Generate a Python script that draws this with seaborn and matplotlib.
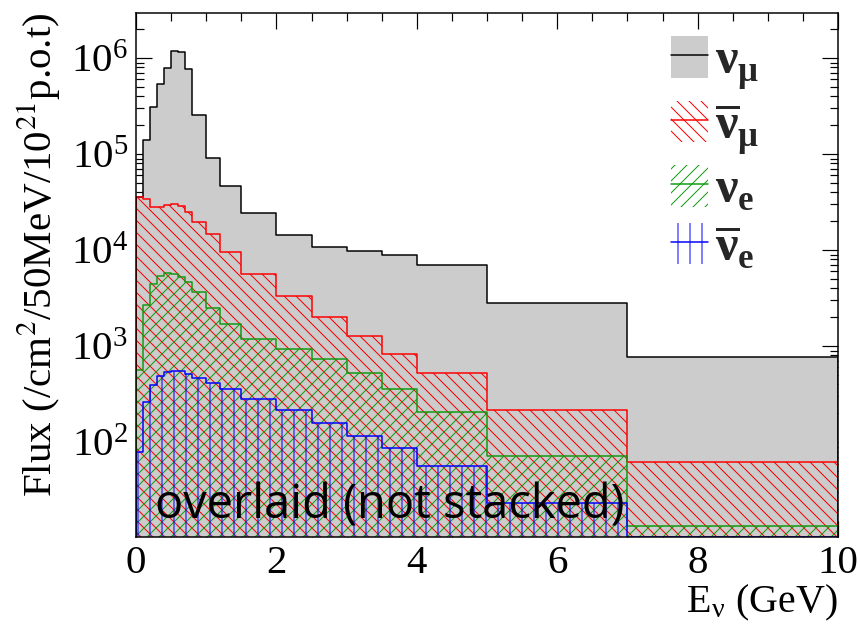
import matplotlib
matplotlib.use("Agg")
import matplotlib.pyplot as plt
from matplotlib.patches import Patch
from matplotlib.lines import Line2D
from matplotlib.font_manager import FontProperties
from matplotlib.ticker import MultipleLocator, LogLocator, NullFormatter
import seaborn as sns

# Neutrino energy binning (GeV) and flux per flavour (/cm^2/50MeV/1e21 p.o.t)
bin_edges = [0.0, 0.1, 0.2, 0.3, 0.4, 0.5, 0.6, 0.7, 0.8, 1.0, 1.2, 1.5,
             2.0, 2.5, 3.0, 3.5, 4.0, 5.0, 7.0, 10.0]
flux_numu = [35600, 140000, 311000, 532000, 793000, 1180000, 1160000, 768000,
             255000, 90200, 46400, 24100, 14300, 10800, 9690, 8940, 7030, 2830, 774]
flux_numubar = [35400, 34400, 28300, 28300, 29800, 29900, 29100, 25100, 19600,
                14900, 9600, 5620, 3340, 2020, 1280, 839, 527, 219, 62.4]
flux_nue = [562, 2670, 4420, 5400, 5720, 5620, 5230, 4680, 3680, 2500, 1700,
            1200, 946, 741, 530, 362, 204, 71.5, 13.4]
flux_nuebar = [79, 261, 393, 491, 540, 550, 545, 511, 461, 415, 354, 285, 214,
               160, 116, 87, 56, 23, 10.4]

labels = [r"$\mathrm{\nu}_{\mathrm{\mu}}$", r"$\overline{\mathrm{\nu}}_{\mathrm{\mu}}$",
          r"$\mathrm{\nu}_{\mathrm{e}}$", r"$\overline{\mathrm{\nu}}_{\mathrm{e}}$"]
series = [flux_numu, flux_numubar, flux_nue, flux_nuebar]
faces = ["#cccccc", "none", "none", "none"]
edges = ["black", "#ff0000", "#109a10", "#0000ff"]
hatches = [None, "\\\\", "//", "|"]

sns.set_style("ticks")
plt.rcParams["font.family"] = ["Liberation Serif", "DejaVu Serif"]
plt.rcParams["mathtext.fontset"] = "stix"
plt.rcParams["mathtext.rm"] = "Liberation Serif:bold"
plt.rcParams["hatch.linewidth"] = 1.0

W, H, DPI = 860, 628, 72
fig = plt.figure(figsize=(W / DPI, H / DPI), dpi=DPI)
ax = fig.add_axes([136 / W, 91 / H, 702 / W, 524 / H])
ax.set_yscale("log")

centers = [(a + b) / 2 for a, b in zip(bin_edges[:-1], bin_edges[1:])]
for vals, fc, ec, ht in zip(series, faces, edges, hatches):
    sns.histplot(x=centers, weights=vals, bins=bin_edges, element="step",
                 fill=True, alpha=1, ax=ax, color=ec, facecolor=fc,
                 edgecolor=ec, hatch=ht, linewidth=1.5)

ax.set_xlim(0, 10)
ax.set_ylim(10.3, 2.95e6)

ax.xaxis.set_major_locator(MultipleLocator(2))
ax.xaxis.set_minor_locator(MultipleLocator(0.5))
ax.yaxis.set_major_locator(LogLocator(base=10))
ax.yaxis.set_minor_locator(LogLocator(base=10, subs=range(2, 10)))
ax.yaxis.set_minor_formatter(NullFormatter())
ax.tick_params(which="both", direction="in", top=True, right=True,
               labelsize=41, width=1.2, color="black", labelcolor="black")
ax.tick_params(which="major", length=16, pad=8)
ax.tick_params(which="minor", length=8)
for sp in ax.spines.values():
    sp.set_linewidth(1.5)
    sp.set_color("black")

ax.set_ylabel(r"Flux (/cm$^{2}$/50MeV/10$^{21}$p.o.t)", fontsize=41,
              loc="top", color="black")
ax.yaxis.set_label_coords(-0.105, 1.0)
ax.set_xlabel(r"E$_{\mathregular{\nu}}$ (GeV)", fontsize=40, loc="right", color="black")
ax.xaxis.set_label_coords(1.0, -0.088)

ax.text(0.027, 0.036, "overlaid (not stacked)", transform=ax.transAxes,
        fontsize=47, family=["Open Sans", "DejaVu Sans"], va="baseline",
        color="black")

handles = []
for fc, ec, ht in zip(faces, edges, hatches):
    box = Patch(facecolor=fc, edgecolor=ec if ht else "none", hatch=ht, lw=0)
    line = Line2D([], [], color=ec, lw=1.5)
    handles.append((box, line))
leg_font = FontProperties(family="Liberation Serif", size=50,
                          math_fontfamily="custom")
ax.legend(handles, labels, loc="upper left",
          bbox_to_anchor=(671 / W, 1 - 36 / H), bbox_transform=fig.transFigure,
          frameon=False, prop=leg_font, handlelength=0.74, handleheight=0.9,
          labelspacing=0.17, handletextpad=0.14, borderpad=0, borderaxespad=0)

fig.savefig("out.png", dpi=DPI)
